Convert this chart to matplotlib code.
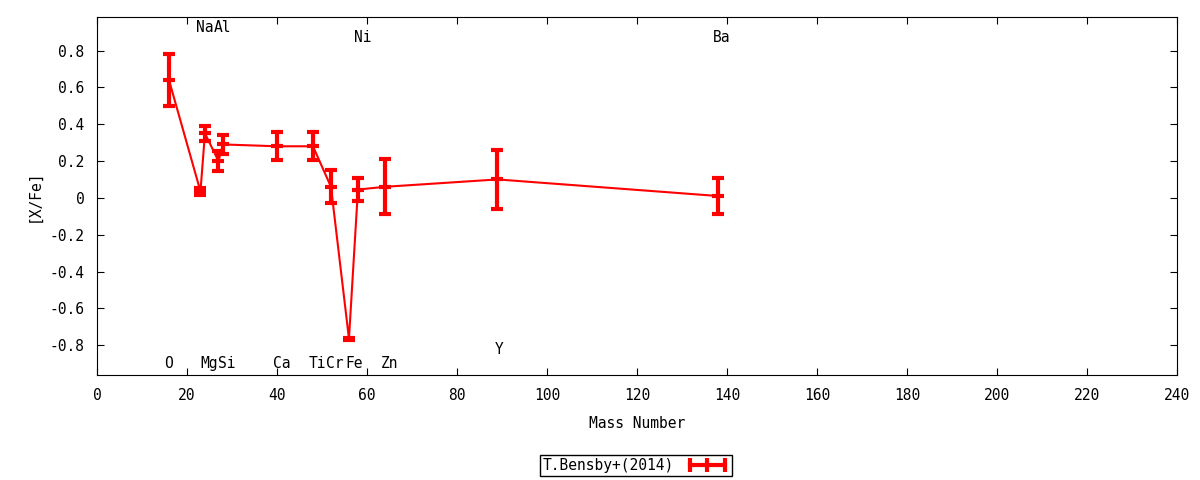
import matplotlib
matplotlib.use("Agg")
import matplotlib.pyplot as plt
from matplotlib.lines import Line2D

plt.rcParams['font.family'] = ['DejaVu Sans Mono']
plt.rcParams['font.size'] = 10

# abundance data
mass = [16, 23, 24, 27, 28, 40, 48, 52, 56, 58, 64, 89, 138]
x_fe = [0.64, 0.035, 0.35, 0.20, 0.29, 0.28, 0.28, 0.06, -0.765, 0.045, 0.06, 0.10, 0.01]
err = [0.14, 0.02, 0.04, 0.055, 0.05, 0.075, 0.075, 0.09, 0.005, 0.063, 0.15, 0.16, 0.10]

# element labels and where they sit
elements = ["O", "Mg", "Si", "Ca", "Ti", "Cr", "Fe", "Zn", "Y", "Na", "Al", "Ni", "Ba"]
label_x = [16.0, 24.9, 28.9, 41.1, 48.9, 52.9, 57.1, 65.1, 89.3, 24.0, 27.8, 59.1, 138.9]
label_y = [-0.90, -0.90, -0.90, -0.90, -0.90, -0.90, -0.90, -0.90, -0.826,
           0.925, 0.925, 0.87, 0.87]

fig = plt.figure(figsize=(12, 4.8), dpi=100)
ax = fig.add_axes([0.0808, 0.2187, 0.9, 0.7459])

ax.errorbar(mass, x_fe, yerr=err, color='red', lw=1.5, elinewidth=3,
            capsize=4.5, capthick=3, marker='_', ms=9, mew=3)

for name, lx, ly in zip(elements, label_x, label_y):
    ax.text(lx, ly, name, ha='center', va='center', fontsize=10.5)

ax.set_xlim(0, 240)
ax.set_ylim(-0.962, 0.982)
ax.set_xticks(range(0, 241, 20))
ax.set_yticks([-0.8, -0.6, -0.4, -0.2, 0, 0.2, 0.4, 0.6, 0.8])
ax.set_yticklabels(["-0.8", "-0.6", "-0.4", "-0.2", "0", "0.2", "0.4", "0.6", "0.8"])
ax.tick_params(direction='in', top=True, right=True, length=5, labelsize=10.5, pad=9)
ax.set_xlabel("Mass Number", fontsize=10.5, labelpad=10)
ax.set_ylabel("[X/Fe]", fontsize=10.5, labelpad=6)

handle = Line2D([], [], color='red', lw=3, marker='|', ms=10, mew=3)
leg = fig.legend([handle], ["T.Bensby+(2014)"], loc='center', bbox_to_anchor=(0.53, 0.031),
                 numpoints=3, markerfirst=False, fancybox=False, framealpha=1,
                 edgecolor='black', fontsize=10.5, borderpad=0.2, handlelength=3)
leg.get_frame().set_linewidth(1)

fig.savefig("out.png", dpi=100)
